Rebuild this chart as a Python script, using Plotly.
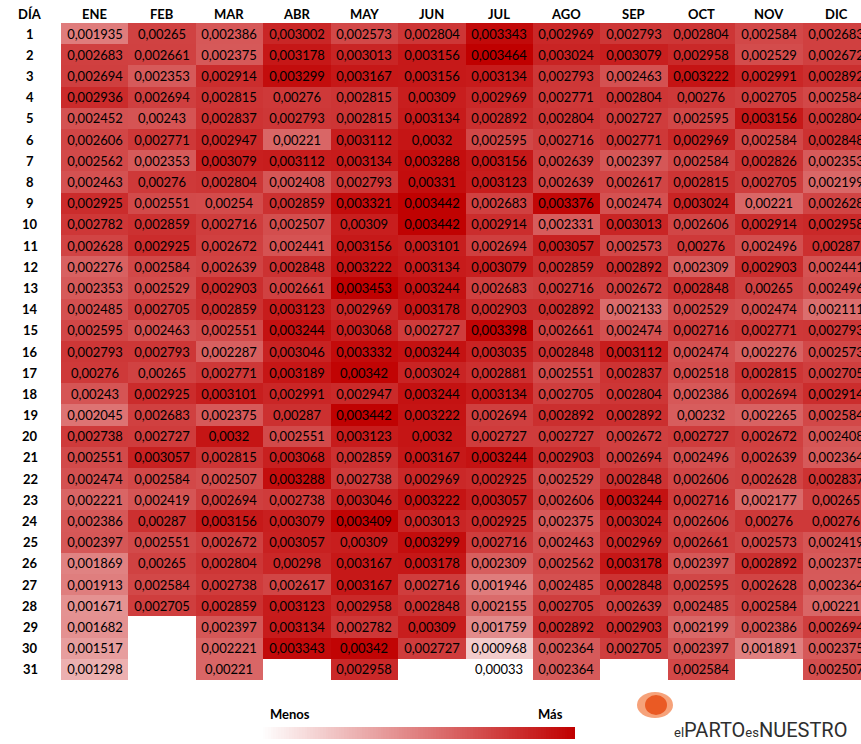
import plotly.graph_objects as go
import numpy as np

meses = ["ENE", "FEB", "MAR", "ABR", "MAY", "JUN", "JUL", "AGO", "SEP", "OCT", "NOV", "DIC"]
dias = list(range(1, 32))

ene = [0.001935, 0.002683, 0.002694, 0.002936, 0.002452, 0.002606, 0.002562, 0.002463, 0.002925, 0.002782,
       0.002628, 0.002276, 0.002353, 0.002485, 0.002595, 0.002793, 0.00276, 0.00243, 0.002045, 0.002738,
       0.002551, 0.002474, 0.002221, 0.002386, 0.002397, 0.001869, 0.001913, 0.001671, 0.001682, 0.001517,
       0.001298]
feb = [0.00265, 0.002661, 0.002353, 0.002694, 0.00243, 0.002771, 0.002353, 0.00276, 0.002551, 0.002859,
       0.002925, 0.002584, 0.002529, 0.002705, 0.002463, 0.002793, 0.00265, 0.002925, 0.002683, 0.002727,
       0.003057, 0.002584, 0.002419, 0.00287, 0.002551, 0.00265, 0.002584, 0.002705, None, None,
       None]
mar = [0.002386, 0.002375, 0.002914, 0.002815, 0.002837, 0.002947, 0.003079, 0.002804, 0.00254, 0.002716,
       0.002672, 0.002639, 0.002903, 0.002859, 0.002551, 0.002287, 0.002771, 0.003101, 0.002375, 0.0032,
       0.002815, 0.002507, 0.002694, 0.003156, 0.002672, 0.002804, 0.002738, 0.002859, 0.002397, 0.002221,
       0.00221]
abr = [0.003002, 0.003178, 0.003299, 0.00276, 0.002793, 0.00221, 0.003112, 0.002408, 0.002859, 0.002507,
       0.002441, 0.002848, 0.002661, 0.003123, 0.003244, 0.003046, 0.003189, 0.002991, 0.00287, 0.002551,
       0.003068, 0.003288, 0.002738, 0.003079, 0.003057, 0.00298, 0.002617, 0.003123, 0.003134, 0.003343,
       None]
may = [0.002573, 0.003013, 0.003167, 0.002815, 0.002815, 0.003112, 0.003134, 0.002793, 0.003321, 0.00309,
       0.003156, 0.003222, 0.003453, 0.002969, 0.003068, 0.003332, 0.00342, 0.002947, 0.003442, 0.003123,
       0.002859, 0.002738, 0.003046, 0.003409, 0.00309, 0.003167, 0.003167, 0.002958, 0.002782, 0.00342,
       0.002958]
jun = [0.002804, 0.003156, 0.003156, 0.00309, 0.003134, 0.0032, 0.003288, 0.00331, 0.003442, 0.003442,
       0.003101, 0.003134, 0.003244, 0.003178, 0.002727, 0.003244, 0.003024, 0.003244, 0.003222, 0.0032,
       0.003167, 0.002969, 0.003222, 0.003013, 0.003299, 0.003178, 0.002716, 0.002848, 0.00309, 0.002727,
       None]
jul = [0.003343, 0.003464, 0.003134, 0.002969, 0.002892, 0.002595, 0.003156, 0.003123, 0.002683, 0.002914,
       0.002694, 0.003079, 0.002683, 0.002903, 0.003398, 0.003035, 0.002881, 0.003134, 0.002694, 0.002727,
       0.003244, 0.002925, 0.003057, 0.002925, 0.002716, 0.002309, 0.001946, 0.002155, 0.001759, 0.000968,
       0.00033]
ago = [0.002969, 0.003024, 0.002793, 0.002771, 0.002804, 0.002716, 0.002639, 0.002639, 0.003376, 0.002331,
       0.003057, 0.002859, 0.002716, 0.002892, 0.002661, 0.002848, 0.002551, 0.002705, 0.002892, 0.002727,
       0.002903, 0.002529, 0.002606, 0.002375, 0.002463, 0.002562, 0.002485, 0.002705, 0.002892, 0.002364,
       0.002364]
sep = [0.002793, 0.003079, 0.002463, 0.002804, 0.002727, 0.002771, 0.002397, 0.002617, 0.002474, 0.003013,
       0.002573, 0.002892, 0.002672, 0.002133, 0.002474, 0.003112, 0.002837, 0.002804, 0.002892, 0.002672,
       0.002694, 0.002848, 0.003244, 0.003024, 0.002969, 0.003178, 0.002848, 0.002639, 0.002903, 0.002705,
       None]
oct_ = [0.002804, 0.002958, 0.003222, 0.00276, 0.002595, 0.002969, 0.002584, 0.002815, 0.003024, 0.002606,
        0.00276, 0.002309, 0.002848, 0.002529, 0.002716, 0.002474, 0.002518, 0.002386, 0.00232, 0.002727,
        0.002496, 0.002606, 0.002716, 0.002606, 0.002661, 0.002397, 0.002595, 0.002485, 0.002199, 0.002397,
        0.002584]
nov = [0.002584, 0.002529, 0.002991, 0.002705, 0.003156, 0.002584, 0.002826, 0.002705, 0.00221, 0.002914,
       0.002496, 0.002903, 0.00265, 0.002474, 0.002771, 0.002276, 0.002815, 0.002694, 0.002265, 0.002672,
       0.002639, 0.002628, 0.002177, 0.00276, 0.002573, 0.002892, 0.002628, 0.002584, 0.002386, 0.001891,
       None]
dic = [0.002683, 0.002672, 0.002892, 0.002584, 0.002804, 0.002848, 0.002353, 0.002199, 0.002628, 0.002958,
       0.00287, 0.002441, 0.002496, 0.002111, 0.002793, 0.002573, 0.002705, 0.002914, 0.002584, 0.002408,
       0.002364, 0.002837, 0.00265, 0.00276, 0.002419, 0.002375, 0.002364, 0.00221, 0.002694, 0.002375,
       0.002507]

columnas = [ene, feb, mar, abr, may, jun, jul, ago, sep, oct_, nov, dic]

W, H = 861, 744
def px(x):
    return x / W
def py(y):
    return 1 - y / H

def fmt(v):
    if v is None:
        return ""
    return f"{v:.6f}".rstrip("0").replace(".", ",")

z = [[columnas[m][d] for m in range(12)] for d in range(31)]
text = [[fmt(v) for v in row] for row in z]
todos = [v for c in columnas for v in c if v is not None]
zmin, zmax = min(todos), max(todos)
escala = [[0, "#FFFFFF"], [1, "#C00000"]]

fig = go.Figure()
fig.add_trace(go.Heatmap(
    x=list(range(12)), y=dias, z=z, text=text, texttemplate="%{text}",
    textfont=dict(family="Lato", size=13, color="black"),
    colorscale=escala, zmin=zmin, zmax=zmax, showscale=False,
    hoverinfo="skip", xaxis="x", yaxis="y"))

# degradado de la leyenda
grad = np.linspace(zmin, zmax, 120)
fig.add_trace(go.Heatmap(
    z=[grad], colorscale=escala, zmin=zmin, zmax=zmax, showscale=False,
    hoverinfo="skip", xaxis="x2", yaxis="y2"))

fuente = dict(family="Lato", size=13, color="black")
ann = []
def nota(texto, x, y, xref="paper", yref="paper", **kw):
    d = dict(text=texto, x=x, y=y, xref=xref, yref=yref, showarrow=False,
             xanchor="center", yanchor="middle", font=fuente)
    d.update(kw)
    ann.append(d)

nota("<b>DÍA</b>", px(30), py(14))
for i, m in enumerate(meses):
    nota(f"<b>{m}</b>", i, py(14), xref="x")
for d in dias:
    nota(f"<b>{d}</b>", px(30), d, yref="y")
nota("<b>Menos</b>", px(290), py(714))
nota("<b>Más</b>", px(550), py(714))
nota("<span style='font-size:13px'>el</span>PARTO<span style='font-size:13px'>es</span>NUESTRO",
     px(760), py(730),
     font=dict(family="Roboto", size=20, color="#2e2e2e"))

shapes = [
    dict(type="circle", xref="paper", yref="paper", x0=px(637), x1=px(673), y0=py(718), y1=py(692),
         fillcolor="#F6A27A", line=dict(width=0), layer="above"),
    dict(type="circle", xref="paper", yref="paper", x0=px(645), x1=px(667), y0=py(715), y1=py(695),
         fillcolor="#EA5A24", line=dict(width=0), layer="above"),
]

fig.update_layout(
    width=W, height=H,
    margin=dict(l=0, r=0, t=0, b=0),
    paper_bgcolor="white", plot_bgcolor="white",
    xaxis=dict(domain=[px(61), 1], range=[-0.5, 11.37], visible=False, fixedrange=True),
    yaxis=dict(domain=[py(680), py(23)], range=[31.5, 0.5], visible=False, fixedrange=True),
    xaxis2=dict(domain=[px(260), px(575)], visible=False, anchor="y2"),
    yaxis2=dict(domain=[py(739), py(727)], visible=False, anchor="x2"),
    annotations=ann, shapes=shapes,
)

fig.write_html("out.html", config={"displayModeBar": False},
               post_script="document.body.style.margin='0';")
